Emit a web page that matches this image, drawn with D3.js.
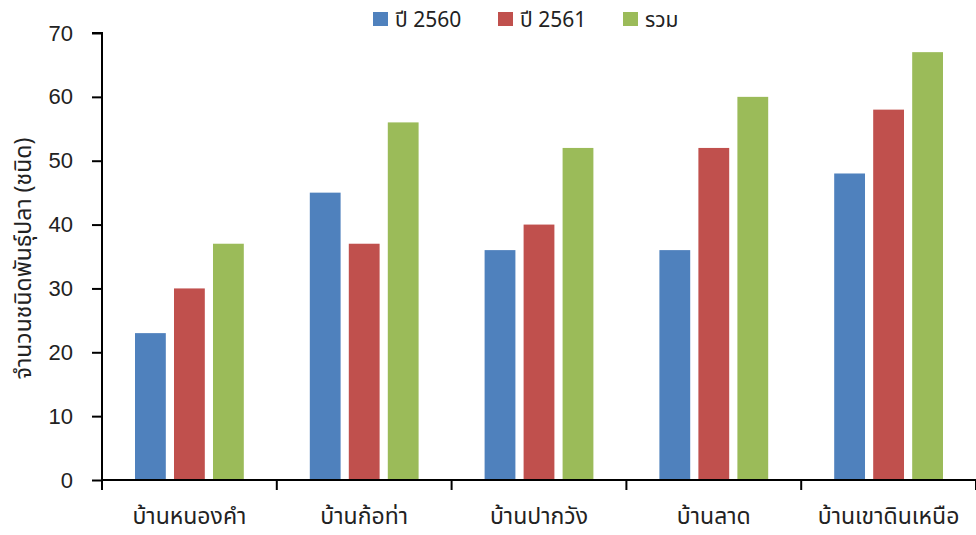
<!DOCTYPE html>
<html>
<head>
<meta charset="utf-8">
<script src="https://cdn.jsdelivr.net/npm/d3@7"></script>
<style>
  body { margin: 0; background: #fff; }
  svg { display: block; font-family: "Noto Sans Thai", "Leelawadee UI", Tahoma, "Noto Sans", "DejaVu Sans", sans-serif; }
</style>
</head>
<body>
<svg id="chart" width="976" height="535"></svg>
<script>
// Villages and fish species counts per year
const villages = ["บ้านหนองคำ", "บ้านก้อท่า", "บ้านปากวัง", "บ้านลาด", "บ้านเขาดินเหนือ"];
const seriesNames = ["ปี 2560", "ปี 2561", "รวม"];
const y2560 = [23, 45, 36, 36, 48];
const y2561 = [30, 37, 40, 52, 58];
const total = [37, 56, 52, 60, 67];
const seriesColors = ["#4f81bd", "#c0504d", "#9bbb59"];
const yTicks = [0, 10, 20, 30, 40, 50, 60, 70];

const seriesValues = [y2560, y2561, total];
const svg = d3.select("#chart");
const margin = { left: 102, right: 0, top: 33, bottom: 55 };
const W = 976, H = 535;

const x = d3.scaleBand().domain(villages).range([margin.left, W - margin.right]).paddingInner(0).paddingOuter(0);
const xs = d3.scaleBand().domain(seriesNames).range([33, x.bandwidth() - 33]).paddingInner(0.21);
const y = d3.scaleLinear().domain([0, 70]).range([H - margin.bottom, margin.top]);

// Bars
const g = svg.append("g");
villages.forEach((v, i) => {
  seriesNames.forEach((s, j) => {
    const val = seriesValues[j][i];
    g.append("rect")
      .attr("x", x(v) + xs(s))
      .attr("y", y(val))
      .attr("width", xs.bandwidth())
      .attr("height", y(0) - y(val))
      .attr("fill", seriesColors[j]);
  });
});

// Y axis
const yAxis = d3.axisLeft(y).tickValues(yTicks).tickSize(10).tickPadding(19);
const ya = svg.append("g").attr("transform", `translate(${margin.left},0)`).call(yAxis);
ya.select(".domain").attr("stroke", "#000").attr("stroke-width", 2).attr("d", `M-10,${y(70)}H0V${y(0)}`);
ya.selectAll(".tick line").attr("stroke", "#000").attr("stroke-width", 2);
ya.selectAll(".tick text").attr("font-size", 22).attr("fill", "#222").style("font-family", "inherit");

// X axis with ticks at category boundaries
const xa = svg.append("g").attr("transform", `translate(0,${y(0)})`);
xa.append("line").attr("x1", margin.left).attr("x2", W).attr("stroke", "#000").attr("stroke-width", 2);
const bounds = villages.map(v => x(v)).concat([x(villages[villages.length - 1]) + x.bandwidth()]);
xa.selectAll("line.tk").data(bounds).enter().append("line")
  .attr("class", "tk")
  .attr("x1", d => d).attr("x2", d => d).attr("y1", 0).attr("y2", 10)
  .attr("stroke", "#000").attr("stroke-width", 2);
xa.selectAll("text").data(villages).enter().append("text")
  .attr("x", d => x(d) + x.bandwidth() / 2)
  .attr("y", 44)
  .attr("text-anchor", "middle")
  .attr("font-size", 23)
  .attr("fill", "#222")
  .text(d => d);

// Y axis title
svg.append("text")
  .attr("transform", `translate(31,${(y(0) + y(70)) / 2 + 2}) rotate(-90)`)
  .attr("text-anchor", "middle")
  .attr("font-size", 23)
  .attr("fill", "#222")
  .text("จำนวนชนิดพันธุ์ปลา (ชนิด)");

// Legend
const legendX = [373, 498, 623];
const lg = svg.append("g");
seriesNames.forEach((s, j) => {
  lg.append("rect").attr("x", legendX[j]).attr("y", 12).attr("width", 15).attr("height", 14).attr("fill", seriesColors[j]);
  lg.append("text").attr("x", legendX[j] + 22).attr("y", 27).attr("font-size", 21).attr("fill", "#222").text(s);
});
</script>
</body>
</html>
